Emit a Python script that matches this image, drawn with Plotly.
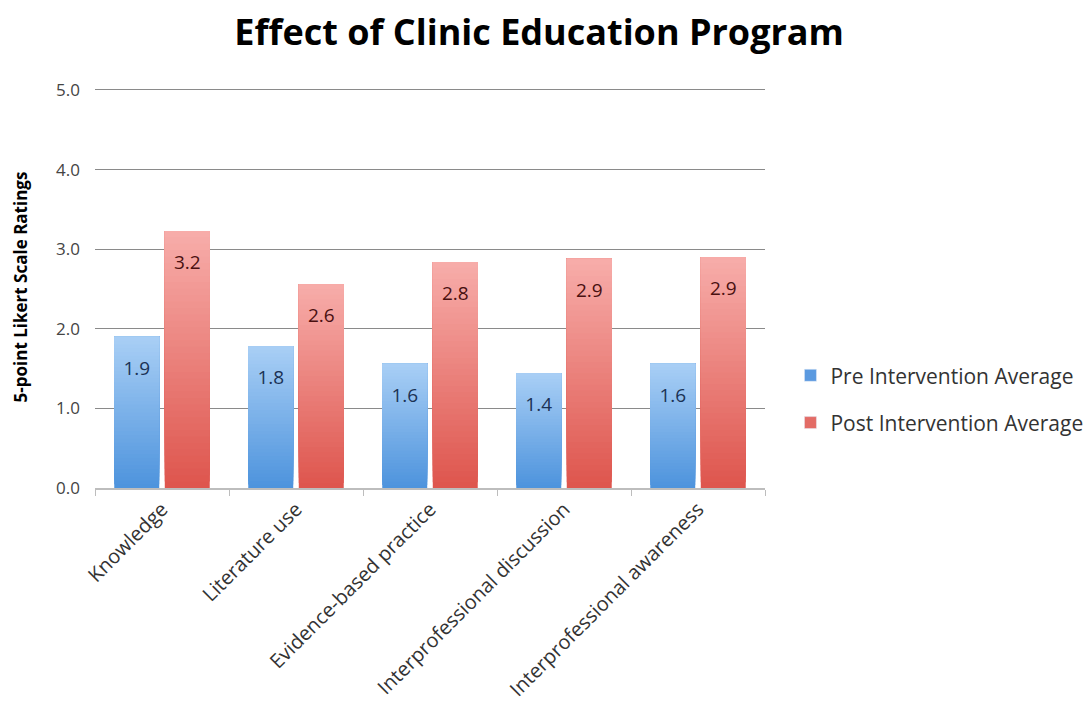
import plotly.graph_objects as go

categories = ["Knowledge", "Literature use", "Evidence-based practice",
              "Interprofessional discussion", "Interprofessional awareness"]
pre_values = [1.90, 1.78, 1.56, 1.44, 1.56]
post_values = [3.23, 2.56, 2.84, 2.88, 2.90]
series_names = ["Pre Intervention Average", "Post Intervention Average"]
y_ticks = [0, 1, 2, 3, 4, 5]

# gradient endpoints (top colour, bottom colour), legend colour, label colour
styles = [
    ((168, 206, 245), (78, 148, 221), "#5b9ae0", "#1b3255"),
    ((247, 172, 169), (222, 86, 78), "#e36c66", "#4a1010"),
]

N = 40
LABEL_BOX = 0.78  # height (data units) of the invisible label box below bar top


def mix(c1, c2, t):
    return "rgb(%d,%d,%d)" % tuple(round(a + (b - a) * t) for a, b in zip(c1, c2))


fig = go.Figure()
for s, (name, vals) in enumerate(zip(series_names, [pre_values, post_values])):
    top, bot, leg, lab = styles[s]
    # gradient: each slice runs from its start up to the bar top; later ones overdraw
    for i in range(N):
        t = 1 - i / (N - 1)  # 1 at bottom, 0 at top
        fig.add_trace(go.Bar(
            x=categories,
            y=[v * (N - i) / N for v in vals],
            base=[v * i / N for v in vals],
            offsetgroup=str(s),
            marker=dict(color=mix(top, bot, t), line=dict(width=0)),
            showlegend=False, hoverinfo="skip",
        ))
    # label carrier
    fig.add_trace(go.Bar(
        x=categories, y=[LABEL_BOX] * len(vals),
        base=[v - LABEL_BOX for v in vals],
        offsetgroup=str(s),
        marker=dict(color="rgba(0,0,0,0)", line=dict(width=0)),
        text=["%.1f" % v for v in vals],
        textposition="inside", insidetextanchor="middle",
        textfont=dict(family="Open Sans", size=19, color=lab),
        showlegend=False,
        customdata=vals, hovertemplate=name + ": %{customdata:.2f}<extra></extra>",
    ))
    # legend marker
    fig.add_trace(go.Bar(
        x=[None], y=[None], name=name, legendgroup=name,
        marker=dict(color=leg), showlegend=True,
    ))

fig.update_layout(
    width=1087, height=717,
    paper_bgcolor="white", plot_bgcolor="white",
    barmode="group", bargap=0.246, bargroupgap=0.11,
    margin=dict(l=95, r=322, t=86, b=229, autoexpand=False),
    title=dict(text="<b>Effect of Clinic Education Program</b>",
               x=0.496, xanchor="center", y=0.955, yanchor="middle",
               font=dict(family="Open Sans", size=36, color="black")),
    font=dict(family="Open Sans", color="#222"),
    legend=dict(x=1.038, y=0.221, xanchor="left", yanchor="middle",
                font=dict(family="Open Sans", size=21, color="#333"),
                traceorder="grouped", tracegroupgap=17,
                itemwidth=30),
    showlegend=True,
    uniformtext=dict(mode=False),
)
fig.update_yaxes(
    range=[0, 5.05], tickvals=y_ticks, tickformat=".1f",
    showgrid=True, gridcolor="#8a8a8a", gridwidth=1.2,
    zeroline=False, showline=False,
    ticks="", ticklen=0, ticklabelstandoff=14,
    tickfont=dict(family="Open Sans", size=17, color="#444"),
    title=dict(text="<b>5-point Likert Scale Ratings</b>",
               font=dict(family="Open Sans", size=17, color="black"),
               standoff=24),
)
fig.update_xaxes(
    type="category", tickangle=-45,
    showline=True, linecolor="#bdbdbd", linewidth=1.5,
    ticks="outside", tickson="boundaries", ticklen=6, tickcolor="#bdbdbd",
    tickfont=dict(family="Open Sans", size=20, color="#333"),
)

fig.write_html("out.html")
